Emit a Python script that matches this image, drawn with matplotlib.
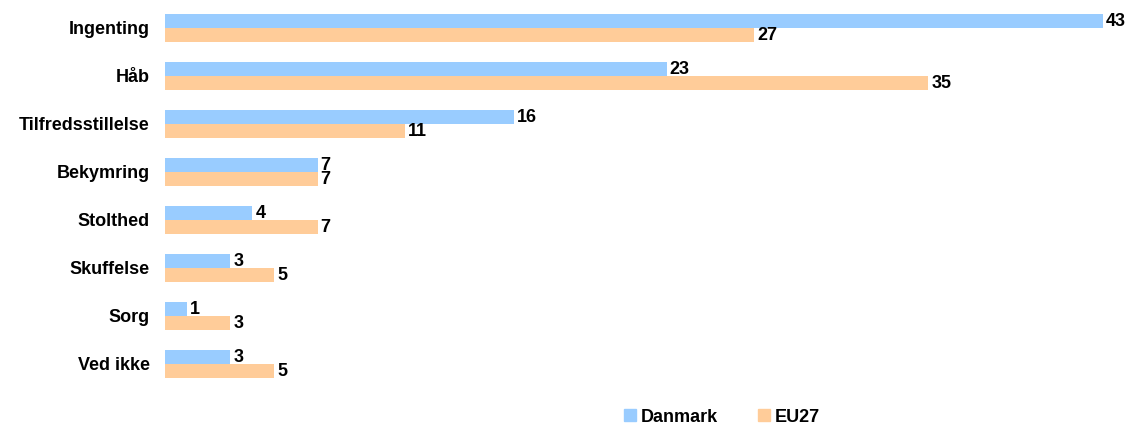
import matplotlib.pyplot as plt
import numpy as np
from matplotlib.patches import Patch

categories = ["Ingenting", "Håb", "Tilfredsstillelse", "Bekymring",
              "Stolthed", "Skuffelse", "Sorg", "Ved ikke"]
danmark = [43, 23, 16, 7, 4, 3, 1, 3]
eu27 = [27, 35, 11, 7, 7, 5, 3, 5]
series_names = ["Danmark", "EU27"]

BLUE = "#99ccff"
ORANGE = "#ffcc99"
FS = 13


def main() -> None:
    plt.rcParams["font.family"] = ["Liberation Sans", "DejaVu Sans"]
    fig = plt.figure(figsize=(11.32, 4.26), dpi=100)
    W, H = 1132, 426
    ax = fig.add_axes([165 / W, 1 - 388 / H, (1132 - 165) / W, (388 - 4) / H])

    y = np.arange(len(categories))
    h = 14 / 48
    ax.barh(y - h / 2, danmark, height=h, color=BLUE)
    ax.barh(y + h / 2, eu27, height=h, color=ORANGE)

    for yi, v in zip(y, danmark):
        ax.annotate(str(v), (v, yi - h / 2), xytext=(2.2, 0), textcoords="offset points",
                    va="center", ha="left", fontsize=FS, fontweight="bold",
                    annotation_clip=False)
    for yi, v in zip(y, eu27):
        ax.annotate(str(v), (v, yi + h / 2), xytext=(2.2, 0), textcoords="offset points",
                    va="center", ha="left", fontsize=FS, fontweight="bold",
                    annotation_clip=False)

    ax.set_xlim(0, 967 / 21.81)
    ax.set_ylim(len(categories) - 0.5, -0.5)
    ax.set_yticks(y)
    ax.set_yticklabels(categories, fontsize=FS, fontweight="bold")
    ax.tick_params(axis="y", length=0, pad=11)
    ax.set_xticks([])
    for s in ax.spines.values():
        s.set_visible(False)

    handles = [Patch(color=BLUE), Patch(color=ORANGE)]
    fig.legend(handles, series_names, loc="center", bbox_to_anchor=(722 / W, 1 - 417 / H),
               ncol=2, frameon=False, handlelength=0.65, handleheight=0.65,
               handletextpad=0.3, columnspacing=2.2,
               prop={"weight": "bold", "size": FS})

    fig.savefig("out.png", dpi=100)


if __name__ == "__main__":
    main()
